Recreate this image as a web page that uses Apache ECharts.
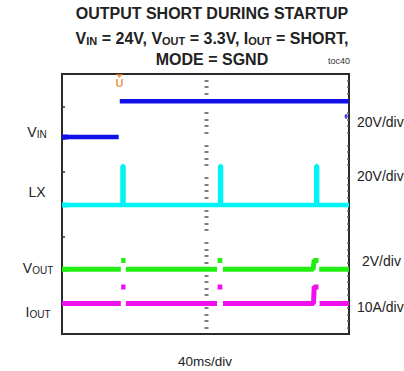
<!DOCTYPE html>
<html><head><meta charset="utf-8">
<script src="https://cdn.jsdelivr.net/npm/echarts@6/dist/echarts.min.js"></script>
<style>html,body{margin:0;padding:0;background:#fff}#c{width:404px;height:371px}</style>
</head><body><div id="c"></div>
<script>
// ---- data (time in ms, values in channel units) ----
const timeVin = [0, 20, 40, 60, 79, 79.5, 80.5, 120, 160, 200, 240, 280, 320, 360, 400];
const vinVolts = [0, 0, 0.1, 0, 0, null, 22, 22, 22, 22, 22, 22, 22, 22, 22];
const timeLx = [0, 60, 84.3, 84.3, 85.7, 85.7, 150, 220.3, 220.3, 221.7, 221.7, 300, 354.3, 354.3, 355.7, 355.7, 400];
const lxVolts = [0, 0, 0, 24, 24, 0, 0, 0, 24, 24, 0, 0, 0, 24, 24, 0, 0];
const timeVout = [0, 40, 82, 82.3, 82.5, 88.5, 88.8, 89, 150, 216, 216.3, 216.8, 223.5, 223.8, 224.3, 300, 350, 351.5, 357.5, 357.8, 358.5, 400];
const voutVolts = [0, 0, 0, null, 0.55, 0.55, null, 0, 0, 0, null, 0.55, 0.55, null, 0, 0, 0, 0.55, 0.55, null, 0, 0];
const timeIout = [0, 40, 82, 82.3, 82.5, 88.5, 88.8, 89, 150, 216, 216.3, 216.8, 223.5, 223.8, 224.3, 300, 350.5, 351.2, 351.5, 357.5, 357.8, 359, 400];
const ioutAmps = [0, 0, 0, null, 5.1, 5.1, null, 0, 0, 0, null, 5.1, 5.1, null, 0, 0, 0, 0, 5.1, 5.1, null, 0, 0];
const trigTime = 80;
const vinTrigLevel = 12.7;
const xTicks = ['40ms/div'];

// channel setup: units per division and ground position in divisions from bottom
const channels = [
  {name: 'VIN', perDiv: 20, ground: 6.06, color: '#1010e8'},
  {name: 'LX', perDiv: 20, ground: 3.97, color: '#00f4f4'},
  {name: 'VOUT', perDiv: 2, ground: 1.99, color: '#22ee11'},
  {name: 'IOUT', perDiv: 10, ground: 0.94, color: '#ee11ee'}
];
const DIVS = 8;

const zip = (t, v) => t.map((x, i) => [x, v[i]]);
const font = "'Liberation Sans', Arial, sans-serif";

const chanAxes = channels.map(c => ({
  type: 'value', show: false, min: -c.ground * c.perDiv, max: (DIVS - c.ground) * c.perDiv
}));

const chart = echarts.init(document.getElementById('c'), null, {renderer: 'svg'});
const sub = (fs) => ({fontSize: fs, fontFamily: font, color: '#222', verticalAlign: 'bottom', lineHeight: fs});
const main = (fs, lh) => ({fontSize: fs, fontFamily: font, color: '#222', verticalAlign: 'bottom', lineHeight: lh});
const tb = (fs, lh) => ({fontSize: fs, fontFamily: font, fontWeight: 'bold', color: '#111', verticalAlign: 'bottom', lineHeight: lh});
const tbs = (fs) => ({fontSize: fs, fontFamily: font, fontWeight: 'bold', color: '#111', verticalAlign: 'bottom', lineHeight: fs});

function label(x, y, text, align, rich) {
  return {type: 'text', x, y, style: {text, align: align || 'left', verticalAlign: 'middle', rich: rich || {}, fontFamily: font, fontSize: 14, fill: '#222'}};
}

chart.setOption({
  animation: false,
  grid: {left: 62, top: 74, width: 287, height: 260, show: true, borderColor: '#2a2a2a', borderWidth: 2, backgroundColor: '#fff'},
  xAxis: {type: 'value', min: 0, max: 400, interval: 40, axisLine: {show: false}, axisTick: {show: false}, axisLabel: {show: false}, splitLine: {show: false}},
  yAxis: [
    {type: 'value', min: 0, max: DIVS, interval: 1, position: 'left', axisLine: {show: false},
     axisTick: {show: true, inside: true, length: 3, lineStyle: {color: '#333', width: 1.5}}, axisLabel: {show: false}, splitLine: {show: false}},
    {type: 'value', min: 0, max: DIVS, interval: 1, position: 'left', offset: -146.5, axisLine: {show: false},
     axisTick: {show: false}, minorTick: {show: true, splitNumber: 5, length: 4, lineStyle: {color: '#555', width: 1.5}},
     axisLabel: {show: false}, splitLine: {show: false}},
    {type: 'value', min: 0, max: DIVS, interval: 1, position: 'right', axisLine: {show: false},
     axisTick: {show: false, inside: true}, minorTick: {show: true, splitNumber: 5, length: 2, lineStyle: {color: '#666', width: 1.5}},
     axisLabel: {show: false}, splitLine: {show: false}}
  ].concat(chanAxes),
  series: [
    {type: 'line', yAxisIndex: 3, data: zip(timeVin, vinVolts), showSymbol: false, connectNulls: false, lineStyle: {color: channels[0].color, width: 4.5}},
    {type: 'line', yAxisIndex: 4, data: zip(timeLx, lxVolts), showSymbol: false, lineStyle: {color: channels[1].color, width: 4.5}},
    {type: 'line', yAxisIndex: 5, data: zip(timeVout, voutVolts), showSymbol: false, connectNulls: false, lineStyle: {color: channels[2].color, width: 5}},
    {type: 'line', yAxisIndex: 6, data: zip(timeIout, ioutAmps), showSymbol: false, connectNulls: false, lineStyle: {color: channels[3].color, width: 5}},
    // ground markers at left edge
    ...channels.map((c, i) => ({type: 'scatter', yAxisIndex: 3 + i, data: [[4.5, 0]], symbol: 'rect', symbolSize: [6, 5], itemStyle: {color: c.color}, z: 5})),
    // VIN trigger level marker at right edge
    {type: 'scatter', yAxisIndex: 3, data: [[396, vinTrigLevel]], symbol: 'circle', symbolSize: [3, 5], itemStyle: {color: channels[0].color}},
    // trigger position marker
    {type: 'scatter', yAxisIndex: 0, data: [[trigTime, 7.94]], symbol: 'triangle', symbolRotate: 180, symbolSize: [7, 4], itemStyle: {color: '#f07a1a'}},
    {type: 'scatter', yAxisIndex: 0, data: [[trigTime, 7.73]], symbolSize: 0,
     label: {show: true, position: 'inside', formatter: 'U', color: '#f07a1a', fontWeight: 'bold', fontSize: 11, fontFamily: font}}
  ],
  graphic: [
    label(212, 12, '{t|OUTPUT SHORT DURING STARTUP}', 'center', {t: tb(16, 18)}),
    label(212, 37, '{t|V}{s|IN}{t| = 24V, V}{s|OUT}{t| = 3.3V, I}{s|OUT}{t| = SHORT,}', 'center', {t: tb(16, 18), s: tbs(11)}),
    label(212, 58, '{t|MODE = SGND}', 'center', {t: tb(16, 18)}),
    {type: 'text', x: 350, y: 61, style: {text: 'toc40', align: 'right', verticalAlign: 'middle', fontFamily: font, fontSize: 9, fill: '#333'}},
    label(37, 130, '{m|V}{s|IN}', 'center', {m: main(14, 18), s: sub(10)}),
    label(37, 190, '{m|LX}', 'center', {m: main(14, 18)}),
    label(38, 266, '{m|V}{s|OUT}', 'center', {m: main(14, 18), s: sub(10)}),
    label(38, 310, '{m|I}{s|OUT}', 'center', {m: main(14, 18), s: sub(10)}),
    label(357, 120, '{m|20V/div}', 'left', {m: main(14, 18)}),
    label(357, 174, '{m|20V/div}', 'left', {m: main(14, 18)}),
    label(362, 259, '{m|2V/div}', 'left', {m: main(14, 18)}),
    label(357, 305, '{m|10A/div}', 'left', {m: main(14, 18)}),
    label(205, 359, '{m|' + xTicks[0] + '}', 'center', {m: main(13.5, 18)})
  ]
});
</script></body></html>
